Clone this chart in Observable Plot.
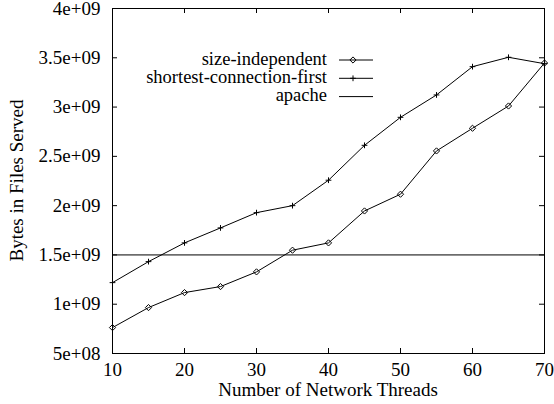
<!DOCTYPE html>
<html><head><meta charset="utf-8">
<script src="https://cdn.jsdelivr.net/npm/d3@7"></script>
<script src="https://cdn.jsdelivr.net/npm/@observablehq/plot@0.6"></script>
<style>body{margin:0;background:#fff}</style>
</head><body><div id="chart"></div>
<script>
const threads = [10, 15, 20, 25, 30, 35, 40, 45, 50, 55, 60, 65, 70];
const sizeIndependent = [0.763e9, 0.966e9, 1.118e9, 1.179e9, 1.328e9, 1.548e9, 1.622e9, 1.946e9, 2.116e9, 2.555e9, 2.785e9, 3.011e9, 3.447e9];
const shortestConnectionFirst = [1.219e9, 1.432e9, 1.622e9, 1.774e9, 1.929e9, 2.0e9, 2.258e9, 2.612e9, 2.896e9, 3.123e9, 3.41e9, 3.505e9, 3.44e9];
const apacheValue = 1.5e9;
const xTicks = [10, 20, 30, 40, 50, 60, 70];
const yTicks = [5e8, 1e9, 1.5e9, 2e9, 2.5e9, 3e9, 3.5e9, 4e9];
const yTickLabels = ["5e+08", "1e+09", "1.5e+09", "2e+09", "2.5e+09", "3e+09", "3.5e+09", "4e+09"];
const seriesNames = ["size-independent", "shortest-connection-first", "apache"];

const W = 554, H = 404;
const mL = 112, mR = 10, mT = 8, mB = 51;
const pw = W - mL - mR, ph = H - mT - mB;
const font = "'Liberation Serif', 'Times New Roman', serif";

const si = threads.map((t, i) => ({x: t, y: sizeIndependent[i]}));
const scf = threads.map((t, i) => ({x: t, y: shortestConnectionFirst[i]}));

const plot = Plot.plot({
  width: W, height: H,
  marginLeft: mL, marginRight: mR, marginTop: mT, marginBottom: mB,
  style: {fontFamily: font, fontSize: "19px", color: "black", background: "white"},
  x: {domain: [10, 70]},
  y: {domain: [5e8, 4e9]},
  marks: [
    Plot.axisX(xTicks, {tickSize: 0, tickPadding: 9, label: null, tickFormat: d => String(d)}),
    Plot.axisY(yTicks, {tickSize: 0, tickPadding: 12, label: null, tickFormat: d => yTickLabels[yTicks.indexOf(d)]}),
    Plot.tickX(xTicks, {x: d => d, insetTop: ph - 5, stroke: "black"}),
    Plot.tickX(xTicks, {x: d => d, insetBottom: ph - 5, stroke: "black"}),
    Plot.tickY(yTicks, {y: d => d, insetRight: pw - 5, stroke: "black"}),
    Plot.tickY(yTicks, {y: d => d, insetLeft: pw - 5, stroke: "black"}),
    Plot.ruleY([apacheValue], {stroke: "black", strokeWidth: 1}),
    Plot.line(si, {x: "x", y: "y", stroke: "black", strokeWidth: 1}),
    Plot.dot(si, {x: "x", y: "y", symbol: "diamond2", r: 2.8, stroke: "black", strokeWidth: 1}),
    Plot.line(scf, {x: "x", y: "y", stroke: "black", strokeWidth: 1}),
    Plot.dot(scf, {x: "x", y: "y", symbol: "plus", r: 2, stroke: "black", strokeWidth: 1}),
    Plot.frame({stroke: "black", strokeWidth: 1})
  ]
});
document.getElementById("chart").appendChild(plot);

const svg = d3.select(plot);
svg.append("text").attr("x", mL + pw / 2).attr("y", 396).attr("text-anchor", "middle")
  .attr("font-family", font).attr("font-size", 19).attr("fill", "black").text("Number of Network Threads");
svg.append("text").attr("transform", `translate(23,${mT + ph / 2}) rotate(-90)`).attr("text-anchor", "middle")
  .attr("font-family", font).attr("font-size", 19).attr("fill", "black").text("Bytes in Files Served");

const lg = svg.append("g");
const symbols = [d3.symbolDiamond2, d3.symbolPlus, null];
const sizes = [Math.PI * 2.8 * 2.8, Math.PI * 4, 0];
seriesNames.forEach((name, i) => {
  const cy = 60 + i * 18.3;
  lg.append("text").attr("x", 327).attr("y", cy + 4.5).attr("text-anchor", "end")
    .attr("font-family", font).attr("font-size", 18.5).attr("fill", "black").text(name);
  lg.append("line").attr("x1", 339).attr("x2", 373).attr("y1", cy).attr("y2", cy).attr("stroke", "black");
  if (symbols[i]) {
    lg.append("path").attr("transform", `translate(353,${cy})`)
      .attr("d", d3.symbol(symbols[i], sizes[i])())
      .attr("fill", "none").attr("stroke", "black");
  }
});
</script>
</body></html>
